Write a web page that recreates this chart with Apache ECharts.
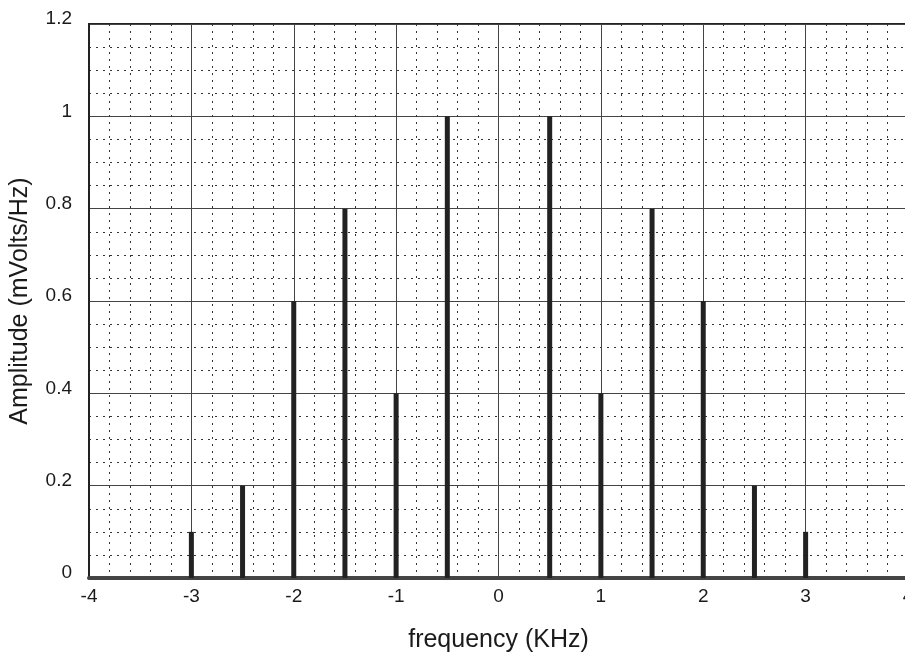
<!DOCTYPE html>
<html>
<head>
<meta charset="utf-8">
<script src="https://cdn.jsdelivr.net/npm/echarts@6/dist/echarts.min.js"></script>
<style>
  html, body { margin: 0; padding: 0; background: #fff; }
  #chart { width: 905px; height: 653px; }
</style>
</head>
<body>
<div id="chart"></div>
<script>
  // 谱线数据
  var freqs = [-3, -2.5, -2, -1.5, -1, -0.5, 0.5, 1, 1.5, 2, 2.5, 3];
  var amps = [0.1, 0.2, 0.6, 0.8, 0.4, 1.0, 1.0, 0.4, 0.8, 0.6, 0.2, 0.1];

  var points = freqs.map(function (f, i) { return [f, amps[i]]; });

  var font = 'Liberation Sans';

  var myChart = echarts.init(document.getElementById('chart'));
  myChart.setOption({
    animation: false,
    grid: {
      left: 89,
      top: 24,
      width: 819,
      height: 554,
      outerBoundsMode: 'none',
      show: true,
      borderColor: '#222',
      borderWidth: 2
    },
    xAxis: {
      type: 'value',
      min: -4,
      max: 4,
      interval: 1,
      name: 'frequency (KHz)',
      nameLocation: 'middle',
      nameGap: 50,
      nameTextStyle: { fontFamily: font, fontSize: 25, color: '#1a1a1a' },
      axisLine: { show: true, onZero: false, lineStyle: { color: '#444', width: 4 } },
      axisTick: { show: false },
      axisLabel: { fontFamily: font, fontSize: 19, color: '#1a1a1a', margin: 9 },
      splitLine: { show: true, lineStyle: { color: '#444', width: 1 } },
      minorTick: { show: false, splitNumber: 5 },
      minorSplitLine: { show: true, lineStyle: { color: '#333', width: 1, type: [2, 5] } }
    },
    yAxis: {
      type: 'value',
      min: 0,
      max: 1.2,
      interval: 0.2,
      name: 'Amplitude (mVolts/Hz)',
      nameLocation: 'middle',
      nameGap: 56,
      nameTextStyle: { fontFamily: font, fontSize: 25, color: '#1a1a1a' },
      axisLine: { show: true, onZero: false, lineStyle: { color: '#222', width: 2 } },
      axisTick: { show: false },
      axisLabel: { fontFamily: font, fontSize: 19, color: '#1a1a1a', margin: 17, verticalAlign: 'bottom', lineHeight: 10 },
      splitLine: { show: true, lineStyle: { color: '#444', width: 1 } },
      minorTick: { show: false, splitNumber: 4 },
      minorSplitLine: { show: true, lineStyle: { color: '#333', width: 1, type: [2, 5] } }
    },
    series: [{
      type: 'bar',
      data: points,
      barWidth: 5,
      itemStyle: { color: '#222' }
    }]
  });
</script>
</body>
</html>
